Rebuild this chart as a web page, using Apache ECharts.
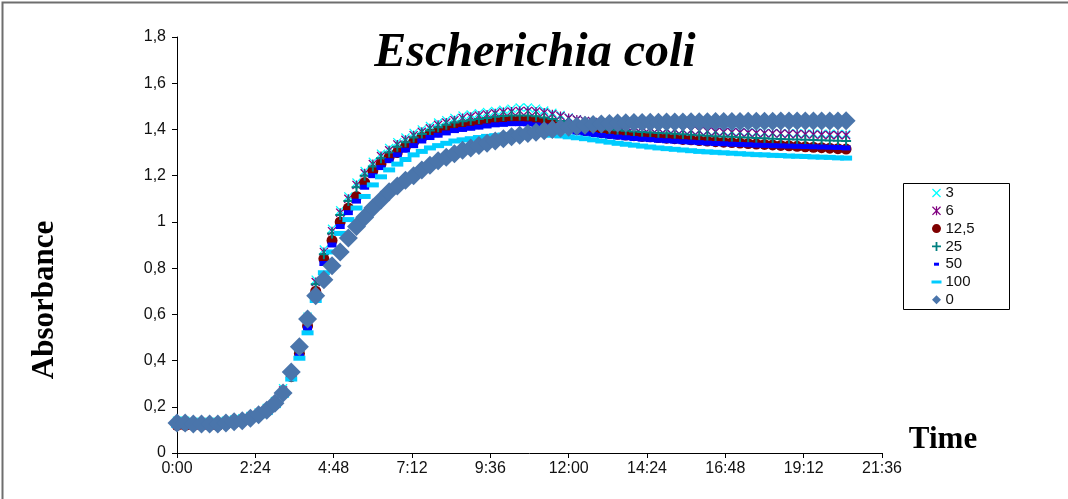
<!DOCTYPE html>
<html>
<head>
<meta charset="utf-8">
<script src="https://cdn.jsdelivr.net/npm/echarts@6/dist/echarts.min.js"></script>
<style>
  html, body { margin: 0; padding: 0; background: #fff; }
  #chart { width: 1068px; height: 499px; }
</style>
</head>
<body>
<div id="chart"></div>
<script>
// time of each reading, in minutes (every 15 min)
const minutes = [
  0, 15, 30, 45, 60, 75, 90, 105, 120, 135,
  150, 165, 180, 195, 210, 225, 240, 255, 270, 285,
  300, 315, 330, 345, 360, 375, 390, 405, 420, 435,
  450, 465, 480, 495, 510, 525, 540, 555, 570, 585,
  600, 615, 630, 645, 660, 675, 690, 705, 720, 735,
  750, 765, 780, 795, 810, 825, 840, 855, 870, 885,
  900, 915, 930, 945, 960, 975, 990, 1005, 1020, 1035,
  1050, 1065, 1080, 1095, 1110, 1125, 1140, 1155, 1170, 1185,
  1200, 1215, 1230
];

const xTicks = [0, 144, 288, 432, 576, 720, 864, 1008, 1152, 1296];
const yTicks = [0, 0.2, 0.4, 0.6, 0.8, 1, 1.2, 1.4, 1.6, 1.8];

const seriesNames = ['3', '6', '12,5', '25', '50', '100', '0'];

const abs3 = [
  0.14, 0.14, 0.135, 0.135, 0.135, 0.135, 0.14, 0.145, 0.15, 0.16,
  0.175, 0.195, 0.225, 0.28, 0.35, 0.46, 0.59, 0.75, 0.88, 0.97,
  1.05, 1.11, 1.17, 1.22, 1.26, 1.295, 1.32, 1.345, 1.365, 1.385,
  1.40, 1.415, 1.43, 1.44, 1.45, 1.46, 1.465, 1.47, 1.475, 1.48,
  1.485, 1.49, 1.495, 1.495, 1.49, 1.482, 1.472, 1.462, 1.452, 1.444,
  1.437, 1.431, 1.426, 1.422, 1.418, 1.415, 1.412, 1.409, 1.407, 1.405,
  1.403, 1.401, 1.399, 1.397, 1.395, 1.393, 1.392, 1.391, 1.39, 1.389,
  1.388, 1.387, 1.386, 1.385, 1.384, 1.384, 1.383, 1.382, 1.382, 1.381,
  1.381, 1.38, 1.38
];

const abs6 = [
  0.125, 0.125, 0.12, 0.12, 0.12, 0.12, 0.125, 0.13, 0.14, 0.15,
  0.165, 0.185, 0.215, 0.27, 0.34, 0.45, 0.58, 0.74, 0.87, 0.96,
  1.04, 1.10, 1.16, 1.21, 1.25, 1.285, 1.31, 1.335, 1.355, 1.375,
  1.39, 1.405, 1.42, 1.43, 1.44, 1.45, 1.455, 1.46, 1.465, 1.47,
  1.475, 1.478, 1.48, 1.48, 1.478, 1.473, 1.466, 1.458, 1.45, 1.443,
  1.437, 1.432, 1.427, 1.423, 1.419, 1.416, 1.413, 1.41, 1.407, 1.405,
  1.402, 1.40, 1.398, 1.396, 1.394, 1.392, 1.39, 1.389, 1.388, 1.387,
  1.386, 1.385, 1.384, 1.383, 1.382, 1.381, 1.38, 1.379, 1.378, 1.377,
  1.376, 1.376, 1.375
];

const abs12 = [
  0.12, 0.12, 0.12, 0.12, 0.12, 0.12, 0.125, 0.13, 0.14, 0.15,
  0.165, 0.18, 0.21, 0.26, 0.33, 0.43, 0.55, 0.70, 0.84, 0.92,
  1.00, 1.06, 1.11, 1.17, 1.22, 1.25, 1.28, 1.30, 1.325, 1.345,
  1.365, 1.38, 1.39, 1.40, 1.41, 1.415, 1.42, 1.425, 1.43, 1.435,
  1.44, 1.44, 1.44, 1.44, 1.438, 1.432, 1.425, 1.417, 1.408, 1.40,
  1.395, 1.39, 1.386, 1.382, 1.379, 1.376, 1.373, 1.37, 1.368, 1.365,
  1.362, 1.36, 1.357, 1.355, 1.352, 1.35, 1.347, 1.345, 1.343, 1.341,
  1.339, 1.337, 1.335, 1.333, 1.331, 1.329, 1.327, 1.325, 1.323, 1.321,
  1.319, 1.317, 1.315
];

const abs25 = [
  0.13, 0.13, 0.125, 0.125, 0.125, 0.125, 0.13, 0.135, 0.145, 0.155,
  0.17, 0.19, 0.22, 0.27, 0.34, 0.44, 0.57, 0.73, 0.86, 0.95,
  1.03, 1.09, 1.15, 1.20, 1.24, 1.275, 1.30, 1.325, 1.345, 1.365,
  1.38, 1.395, 1.41, 1.42, 1.43, 1.435, 1.44, 1.445, 1.45, 1.455,
  1.458, 1.46, 1.46, 1.46, 1.457, 1.452, 1.445, 1.437, 1.43, 1.422,
  1.416, 1.41, 1.405, 1.40, 1.397, 1.394, 1.391, 1.389, 1.387, 1.385,
  1.383, 1.381, 1.379, 1.377, 1.375, 1.373, 1.371, 1.369, 1.368, 1.366,
  1.365, 1.363, 1.362, 1.36, 1.359, 1.358, 1.356, 1.355, 1.354, 1.353,
  1.352, 1.351, 1.35
];

const abs50 = [
  0.12, 0.12, 0.12, 0.12, 0.12, 0.12, 0.125, 0.13, 0.14, 0.15,
  0.16, 0.18, 0.21, 0.26, 0.33, 0.42, 0.54, 0.68, 0.82, 0.90,
  0.98, 1.04, 1.09, 1.15, 1.20, 1.235, 1.265, 1.29, 1.31, 1.33,
  1.35, 1.365, 1.375, 1.385, 1.395, 1.40, 1.405, 1.41, 1.415, 1.42,
  1.422, 1.425, 1.425, 1.424, 1.42, 1.415, 1.41, 1.403, 1.395, 1.388,
  1.383, 1.378, 1.374, 1.37, 1.367, 1.364, 1.361, 1.358, 1.356, 1.353,
  1.351, 1.349, 1.347, 1.345, 1.343, 1.341, 1.339, 1.338, 1.336, 1.335,
  1.334, 1.332, 1.331, 1.33, 1.329, 1.328, 1.327, 1.326, 1.325, 1.324,
  1.323, 1.322, 1.32
];

const abs100 = [
  0.12, 0.12, 0.12, 0.12, 0.12, 0.12, 0.12, 0.125, 0.135, 0.145,
  0.16, 0.175, 0.205, 0.25, 0.32, 0.41, 0.52, 0.66, 0.78, 0.87,
  0.95, 1.01, 1.06, 1.11, 1.16, 1.195, 1.225, 1.25, 1.27, 1.29,
  1.305, 1.32, 1.33, 1.34, 1.35, 1.355, 1.36, 1.365, 1.37, 1.373,
  1.376, 1.378, 1.38, 1.38, 1.38, 1.378, 1.375, 1.372, 1.368, 1.364,
  1.36, 1.355, 1.35, 1.345, 1.34, 1.336, 1.332, 1.328, 1.324, 1.32,
  1.317, 1.314, 1.311, 1.308, 1.305, 1.303, 1.301, 1.299, 1.297, 1.295,
  1.293, 1.291, 1.29, 1.288, 1.287, 1.285, 1.284, 1.283, 1.281, 1.28,
  1.279, 1.277, 1.276
];

const abs0 = [
  0.13, 0.13, 0.125, 0.125, 0.125, 0.125, 0.13, 0.135, 0.14, 0.15,
  0.165, 0.185, 0.215, 0.26, 0.35, 0.46, 0.58, 0.68, 0.75, 0.81,
  0.87, 0.93, 0.98, 1.02, 1.06, 1.095, 1.13, 1.155, 1.18, 1.20,
  1.225, 1.245, 1.265, 1.28, 1.295, 1.31, 1.32, 1.33, 1.34, 1.35,
  1.36, 1.368, 1.375, 1.382, 1.388, 1.394, 1.40, 1.405, 1.41, 1.414,
  1.418, 1.421, 1.424, 1.426, 1.428, 1.429, 1.43, 1.43, 1.431, 1.431,
  1.432, 1.432, 1.432, 1.433, 1.433, 1.433, 1.434, 1.434, 1.434, 1.434,
  1.435, 1.435, 1.435, 1.435, 1.436, 1.436, 1.436, 1.436, 1.437, 1.437,
  1.437, 1.437, 1.438
];

const allValues = [abs3, abs6, abs12, abs25, abs50, abs100, abs0];

// marker shapes, Excel style
const xMark = 'path://M0,1L1,0L5,4L9,0L10,1L6,5L10,9L9,10L5,6L1,10L0,9L4,5Z';
const starMark = 'path://M0,1L1,0L5,4L9,0L10,1L6,5L10,9L9,10L5,6L1,10L0,9L4,5Z M4.3,0H5.7V10H4.3Z';
const plusMark = 'path://M4,0H6V4H10V6H6V10H4V6H0V4H4Z';

const styles = [
  { symbol: xMark, size: 9, color: '#00ffff' },
  { symbol: starMark, size: 9, color: '#800080' },
  { symbol: 'circle', size: 11, color: '#7f0000' },
  { symbol: plusMark, size: 10, color: '#008080' },
  { symbol: 'rect', size: [9, 5], color: '#0000ff' },
  { symbol: 'rect', size: [12, 5], color: '#00ccff' },
  { symbol: 'diamond', size: 19, color: '#4a75ab' }
];

// legend icons (padded paths keep small dashes small)
const legendIcons = [
  xMark,
  starMark,
  'circle',
  plusMark,
  'path://M0,0L0,0M3,3H8V6H3ZM11,9L11,9',
  'path://M0,0L0,0M0.5,3H10.5V6H0.5ZM11,9L11,9',
  'path://M5,0L10,5L5,10L0,5Z'
];

const chart = echarts.init(document.getElementById('chart'));

const series = seriesNames.map((name, k) => ({
  name: name,
  type: 'scatter',
  symbol: styles[k].symbol,
  symbolSize: styles[k].size,
  itemStyle: { color: styles[k].color, opacity: 1 },
  data: minutes.map((m, i) => [m, allValues[k][i]]),
  emphasis: { disabled: true }
}));

const fmtTime = (m) => Math.floor(m / 60) + ':' + String(Math.round(m % 60)).padStart(2, '0');
const fmtAbs = (v) => String(Math.round(v * 10) / 10).replace('.', ',');

chart.setOption({
  animation: false,
  backgroundColor: '#ffffff',
  grid: { left: 177, right: 186, top: 37, bottom: 46 },
  xAxis: {
    type: 'value',
    min: xTicks[0],
    max: xTicks[xTicks.length - 1],
    interval: 144,
    splitLine: { show: false },
    axisLine: { lineStyle: { color: '#000', width: 1 } },
    axisTick: { length: 5, lineStyle: { color: '#000' } },
    axisLabel: {
      color: '#111',
      fontSize: 16,
      fontFamily: 'Liberation Sans',
      margin: 8,
      showMaxLabel: true,
      formatter: fmtTime
    }
  },
  yAxis: {
    type: 'value',
    min: yTicks[0],
    max: yTicks[yTicks.length - 1],
    interval: 0.2,
    splitLine: { show: false },
    axisLine: { show: true, lineStyle: { color: '#000', width: 1 } },
    axisTick: { show: true, length: 5, lineStyle: { color: '#000' } },
    axisLabel: {
      color: '#111',
      fontSize: 16,
      fontFamily: 'Liberation Sans',
      margin: 11,
      formatter: fmtAbs
    }
  },
  legend: {
    orient: 'vertical',
    left: 931,
    top: 185,
    padding: 0,
    itemWidth: 12,
    itemHeight: 9,
    itemGap: 1.8,
    selectedMode: false,
    textStyle: {
      fontSize: 15,
      lineHeight: 16,
      fontFamily: 'Liberation Sans',
      color: '#111',
      padding: [0, 0, 0, -2]
    },
    data: seriesNames.map((n, k) => ({ name: n, icon: legendIcons[k] }))
  },
  graphic: [
    {
      type: 'rect',
      shape: { x: 2.5, y: 2.5, width: 1100, height: 600 },
      style: { fill: 'none', stroke: '#6e6e6e', lineWidth: 2 },
      silent: true
    },
    {
      type: 'rect',
      shape: { x: 903.5, y: 183.5, width: 106, height: 126 },
      style: { fill: 'none', stroke: '#000', lineWidth: 1 },
      silent: true
    },
    {
      type: 'text',
      x: 535,
      y: 54,
      style: {
        text: 'Escherichia coli',
        fontSize: 48,
        fontFamily: 'Liberation Serif',
        fontWeight: 'bold',
        fontStyle: 'italic',
        fill: '#000',
        align: 'center',
        verticalAlign: 'middle',
        textAlign: 'center',
        textVerticalAlign: 'middle'
      },
      silent: true
    },
    {
      type: 'text',
      x: 45,
      y: 300,
      rotation: Math.PI / 2,
      style: {
        text: 'Absorbance',
        fontSize: 31,
        fontFamily: 'Liberation Serif',
        fontWeight: 'bold',
        fill: '#000',
        align: 'center',
        verticalAlign: 'middle',
        textAlign: 'center',
        textVerticalAlign: 'middle'
      },
      silent: true
    },
    {
      type: 'text',
      x: 943,
      y: 440,
      style: {
        text: 'Time',
        fontSize: 31,
        fontFamily: 'Liberation Serif',
        fontWeight: 'bold',
        fill: '#000',
        align: 'center',
        verticalAlign: 'middle',
        textAlign: 'center',
        textVerticalAlign: 'middle'
      },
      silent: true
    }
  ],
  series: series
});
</script>
</body>
</html>
